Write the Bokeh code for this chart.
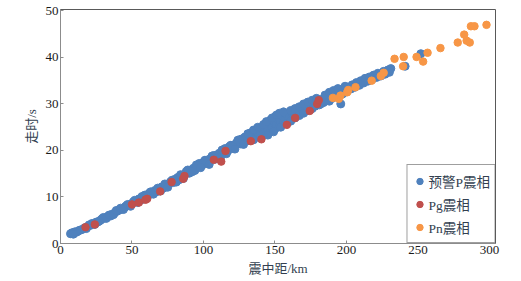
from bokeh.plotting import figure
from bokeh.models import Range1d, Legend, LegendItem, FixedTicker
from bokeh.embed import file_html
from bokeh.resources import INLINE

# 预警P震相 (blue)
p_dist = [7, 8, 9, 10, 11, 12, 13, 15, 17, 19, 21, 22, 24, 26, 28, 29, 31, 33, 35, 36,
          38, 40, 41, 43, 45, 46, 48, 50, 51, 53, 55, 56, 58, 59, 61, 62, 64, 66, 67, 69,
          71, 72, 74, 76, 77, 79, 80, 82, 83, 85, 87, 88, 90, 91, 93, 94, 96, 97, 99, 100,
          102, 103, 105, 106, 108, 109, 111, 112, 114, 115, 117, 118, 120, 121, 123, 124, 126, 127, 129, 130,
          132, 133, 134, 136, 137, 138, 139, 140, 141, 142, 143, 144, 145, 146, 147, 147, 148, 149, 150, 150,
          151, 152, 153, 154, 155, 156, 157, 158, 159, 160, 162, 163, 165, 166, 168, 169, 171, 172, 174, 175,
          177, 178, 180, 181, 183, 184, 186, 187, 189, 190, 192, 193, 195, 196, 197, 198, 200, 201, 203, 204,
          206, 207, 209, 210, 212, 213, 215, 216, 218, 219, 221, 222, 224, 226, 227, 229, 230, 231, 241, 252,
          9, 14, 18, 20, 25, 27, 30, 32, 34, 37, 39, 42, 44, 47, 49, 52, 54, 57, 60, 63,
          65, 68, 70, 73, 75, 78, 81, 84, 86, 89, 92, 95, 98, 101, 104, 107, 110, 113, 116, 119,
          122, 125, 128, 131, 135, 135, 138, 140, 142, 144, 145, 148, 149, 151, 153, 154, 156, 158, 161, 161,
          164, 164, 167, 167, 170, 170, 173, 176, 176, 179, 182, 185, 188, 188, 191, 194, 194, 199]
p_time = [2.1, 2.3, 2.2, 2.5, 2.4, 2.6, 2.8, 3.0, 3.4, 3.6, 3.9, 4.3, 4.1, 4.6, 5.0, 5.3, 5.5, 5.8, 5.9, 6.3,
          6.6, 7.0, 7.2, 7.4, 7.8, 8.1, 8.3, 8.6, 9.0, 9.1, 9.6, 9.3, 10.0, 10.4, 10.2, 10.8, 11.0, 11.4, 11.1, 11.8,
          12.2, 11.9, 12.5, 12.9, 13.3, 13.1, 13.8, 14.2, 13.7, 14.6, 14.9, 15.5, 15.1, 15.8, 16.2, 15.7, 16.6, 17.2, 16.8, 17.5,
          17.9, 17.2, 18.3, 18.8, 18.1, 19.0, 19.4, 18.6, 19.8, 20.4, 19.9, 20.8, 21.1, 20.4, 21.6, 22.2, 21.4, 22.5, 22.9, 22.0,
          23.3, 23.8, 22.6, 23.5, 24.1, 22.9, 23.7, 24.6, 23.2, 24.0, 25.2, 23.5, 24.4, 25.8, 26.6, 24.2, 25.1, 26.3, 27.2, 24.6,
          25.6, 26.8, 25.2, 26.1, 27.4, 25.9, 26.7, 27.8, 26.4, 27.2, 28.1, 27.0, 28.3, 27.6, 28.9, 28.1, 29.3, 28.5, 29.8, 28.9,
          30.1, 29.5, 30.6, 29.8, 31.0, 30.3, 31.4, 30.9, 31.8, 31.2, 32.3, 31.6, 32.6, 30.0, 32.1, 33.1, 32.6, 33.6, 33.2, 34.1,
          33.6, 34.6, 34.0, 35.0, 34.5, 35.5, 34.9, 35.8, 35.3, 36.2, 35.7, 36.6, 36.0, 37.0, 36.4, 37.3, 36.8, 37.6, 38.1, 40.8,
          2.0, 2.9, 3.2, 4.0, 4.6, 4.8, 5.6, 5.4, 6.1, 6.2, 7.1, 7.6, 7.3, 8.4, 8.0, 9.3, 8.8, 10.1, 9.9, 11.1,
          10.6, 11.9, 11.3, 12.8, 12.1, 13.6, 13.2, 14.8, 14.0, 15.8, 15.4, 16.9, 16.3, 17.9, 17.0, 18.9, 18.3, 20.1, 19.3, 21.1,
          20.3, 22.3, 21.3, 23.6, 24.4, 22.3, 25.0, 22.7, 25.6, 26.2, 23.3, 27.0, 24.0, 27.6, 28.0, 25.0, 28.3, 25.8, 28.6, 26.3,
          29.0, 27.0, 29.4, 27.5, 30.0, 28.0, 30.4, 29.0, 30.8, 31.2, 30.0, 31.9, 32.5, 30.6, 32.9, 31.5, 33.3, 33.8]

# Pg震相 (red)
pg_dist = [17.5, 24, 50, 54.8, 59.4, 60.6, 69.7, 77.7, 85.8, 86.7, 107.2, 112.4, 115.4, 133.1, 140.5,
           158.3, 164.1, 174.3, 179.5, 180.6]
pg_time = [3.5, 4.1, 8.4, 8.8, 9.4, 9.6, 11.2, 13.2, 13.9, 14.5, 18.0, 17.6, 19.9, 22.0, 22.4,
           25.5, 27.0, 28.5, 30.0, 30.8]

# Pn震相 (orange)
pn_dist = [190.5, 194.6, 195.8, 200.5, 201.2, 206.3, 217.6, 224.0, 226.0,
           233.6, 240, 239.6, 249, 253.6, 256.7, 265.7, 277.8, 282.3, 284, 286.2, 287.0, 289.5, 297.9]
pn_time = [31.3, 31.1, 31.8, 32.5, 33.0, 33.6, 35.0, 36.0, 36.7,
           39.7, 40.1, 38.1, 40.1, 39.1, 41.0, 42.0, 43.2, 44.9, 43.6, 43.2, 46.7, 46.7, 47.0]

x_ticks = [0, 50, 100, 150, 200, 250, 300]
y_ticks = [0, 10, 20, 30, 40, 50]
x_label = "震中距/km"
y_label = "走时/s"
names = ["预警P震相", "Pg震相", "Pn震相"]
colors = ["#4F81BD", "#C0504D", "#F79646"]

FONT = "Liberation Serif, Noto Sans CJK SC"
TEXT_COLOR = "#333F50"

p = figure(width=521, height=281, output_backend="svg", toolbar_location=None,
           x_range=Range1d(0, 304.2), y_range=Range1d(0, 50.3),
           min_border_left=60, min_border_right=26, min_border_top=9, min_border_bottom=38)
p.background_fill_color = "white"
p.border_fill_color = "white"
p.outline_line_color = "#595959"
p.outline_line_width = 1
p.grid.visible = False

for ax, ticks in ((p.xaxis, x_ticks), (p.yaxis, y_ticks)):
    ax.ticker = FixedTicker(ticks=ticks)
    ax.axis_line_color = "#8c8c8c"
    ax.major_tick_in = 3
    ax.major_tick_out = 0
    ax.major_tick_line_color = "#8c8c8c"
    ax.minor_tick_line_color = None
    ax.major_label_text_font = FONT
    ax.major_label_text_font_size = "13px"
    ax.major_label_text_color = "#1a1a1a"
    ax.major_label_standoff = 2
    ax.axis_label_text_font = FONT
    ax.axis_label_text_font_size = "13px"
    ax.axis_label_text_font_style = "normal"
    ax.axis_label_text_color = TEXT_COLOR
    ax.axis_label_standoff = 4

p.xaxis.axis_label = x_label
p.yaxis.axis_label = y_label

r1 = p.scatter(p_dist, p_time, size=8, color=colors[0], alpha=1)
r2 = p.scatter(pg_dist, pg_time, size=7.5, color=colors[1], alpha=1)
r3 = p.scatter(pn_dist, pn_time, size=7.5, color=colors[2], alpha=1)

legend = Legend(items=[LegendItem(label=names[0], renderers=[r1]),
                       LegendItem(label=names[1], renderers=[r2]),
                       LegendItem(label=names[2], renderers=[r3])],
                location="bottom_right", margin=0, padding=4, spacing=0,
                glyph_width=16, glyph_height=16, label_height=23, label_standoff=1,
                label_text_font=FONT, label_text_font_size="13.5px", label_text_color=TEXT_COLOR,
                border_line_color="#404040", border_line_width=1,
                background_fill_color="white", background_fill_alpha=1)
p.add_layout(legend, "center")

open("out.html", "w").write(file_html(p, INLINE))
